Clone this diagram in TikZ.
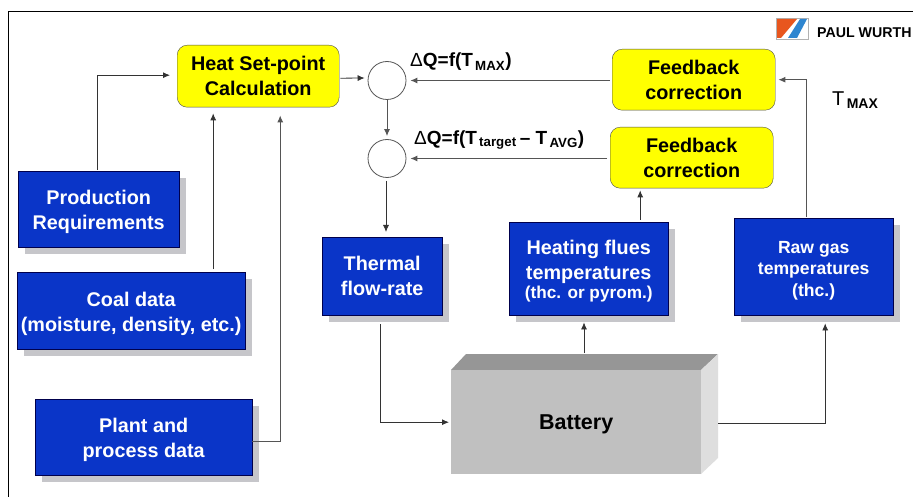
\documentclass[tikz,border=0pt]{standalone}
\usepackage{fontspec}
\setmainfont{Liberation Sans}
\usetikzlibrary{arrows.meta,positioning,shadows}
\definecolor{BlockBlue}{HTML}{0A35C8}
\definecolor{ShadowGray}{HTML}{C6C6CA}
\definecolor{CalcYellow}{HTML}{FFFF00}
\definecolor{LineGray}{HTML}{555555}
\definecolor{FrontGray}{HTML}{C0C0C0}
\definecolor{TopGray}{HTML}{969696}
\definecolor{SideGray}{HTML}{DEDEDE}
\definecolor{LogoRed}{HTML}{E8561E}
\definecolor{LogoBlue}{HTML}{2F86D0}
\newcommand{\dropline}{\rule{0pt}{20pt}}

\begin{document}
\begin{tikzpicture}[x=1pt,y=-1pt,
  blue block/.style={draw=black!70!blue, fill=BlockBlue, text=white, align=center,
              inner sep=0pt, anchor=north west, font=\fontsize{19.8}{25}\selectfont\bfseries,
              drop shadow={shadow xshift=7pt, shadow yshift=-7pt, fill=ShadowGray, opacity=1}},
  calc block/.style={draw=black!70, fill=CalcYellow, rounded corners=10pt, align=center,
              inner sep=0pt, anchor=north west, font=\fontsize{19.8}{25}\selectfont\bfseries},
  sum/.style={circle, draw=LineGray, fill=white, line width=0.8pt, minimum size=38pt, inner sep=0pt},
  lbl/.style={font=\fontsize{19}{22}\selectfont\bfseries, anchor=west, inner sep=0pt},
  conn/.style={draw=black!80, line width=0.8pt, -{Latex[length=7pt,width=6pt]}},
  conn gray/.style={conn, draw=LineGray, line width=1pt},
]
  \useasboundingbox (0,0) rectangle (913,497);
  \fill[white] (0,0) rectangle (913,497);
  \draw[line width=0.9pt] (8.5,497) -- (8.5,11.5) -- (913,11.5);

  % logo
  \draw[draw=black!30, fill=white, line width=0.8pt] (776,18) rectangle (808,39);
  \fill[LogoRed] (777,19) -- (797,19) -- (781,38) -- (777,38) -- cycle;
  \fill[LogoBlue] (800,19) -- (807,19) -- (797,38) -- (788,38) -- cycle;
  \node[anchor=west, inner sep=0pt, font=\fontsize{14.2}{18}\selectfont\bfseries] (logo) at (817,32.5) {PAUL WURTH};

  % inputs and set-point
  \node[calc block, minimum width=162pt, minimum height=62pt] (heat) at (177,45) {Heat Set-point\\Calculation};
  \node[blue block, minimum width=161pt, minimum height=76pt] (prod) at (18,171) {\dropline Production\\Requirements};
  \node[blue block, minimum width=228pt, minimum height=77pt] (coal) at (17,272) {\dropline Coal data\\(moisture, density, etc.)};
  \node[blue block, minimum width=217pt, minimum height=76pt] (plant) at (35,399) {\dropline Plant and\\process data};

  % correction path
  \node[sum] (sum1) at (387,80.5) {};
  \node[sum] (sum2) at (387,158.5) {};
  \node[calc block, minimum width=163pt, minimum height=61pt] (fb1) at (612,49) {Feedback\\correction};
  \node[calc block, minimum width=163pt, minimum height=61pt] (fb2) at (610,127) {Feedback\\correction};
  \node[lbl] (dq1) at (410,62) {{\mdseries Δ}Q=f(T\textsubscript{\,MAX})};
  \node[lbl] (dq2) at (414,140) {{\mdseries Δ}Q=f(T\textsubscript{\,target}\,– T\textsubscript{\,AVG})};
  \node[font=\fontsize{20}{24}\selectfont, anchor=west, inner sep=0pt] (tmax) at (832,100) {T\textsubscript{\,\bfseries MAX}};

  % measurements
  \node[blue block, minimum width=120pt, minimum height=78pt] (flow) at (322,237) {Thermal\\flow-rate};
  \node[blue block, minimum width=159pt, minimum height=93pt] (flues) at (509,222)
    {\dropline Heating flues\\temperatures\\[-6pt]{\fontsize{17.2}{22}\selectfont (thc. or pyrom.)}};
  \node[blue block, minimum width=159pt, minimum height=97pt, font=\fontsize{17.6}{21.5}\selectfont\bfseries] (raw) at (734,218)
    {\dropline Raw gas\\temperatures\\(thc.)};

  % battery
  \fill[TopGray] (451,370) -- (466,354) -- (718,354) -- (701,370) -- cycle;
  \fill[SideGray] (701,370) -- (718,354) -- (718,458) -- (701,474) -- cycle;
  \node[fill=FrontGray, minimum width=250pt, minimum height=104pt, inner sep=0pt, anchor=north west,
        font=\fontsize{21.5}{24}\selectfont\bfseries] (batt) at (451,370) {\dropline Battery};

  % connector ends
  \coordinate (prodout) at ([xshift=-1.5pt,yshift=1pt]prod.north);
  \coordinate (coalout) at ([xshift=82pt,yshift=3pt]coal.north);
  \coordinate (s2out) at ([xshift=-1pt,yshift=-3pt]sum2.south);
  \coordinate (flowout) at ([xshift=-2pt,yshift=-9pt]flow.south);
  \coordinate (batttop) at (584,353);
  \coordinate (battright) at (718,423);
  \coordinate (fluesout) at ([xshift=51.5pt,yshift=2pt]flues.north);
  \coordinate (rawout) at ([xshift=-7.5pt,yshift=1pt]raw.north);

  % connectors
  \draw[conn, shorten >=7pt] (prodout) |- ([yshift=1pt]heat.west);
  \draw[conn, shorten >=6pt] (coalout) -- (coalout |- heat.south);
  \draw[conn gray, shorten >=8pt] ([yshift=-4pt]plant.east) -| ([xshift=22pt]heat.south);
  \draw[conn] ([xshift=1pt,yshift=-2pt]heat.east) -- ([xshift=-3pt,yshift=2.5pt]sum1.west);
  \draw[conn gray] (sum1.south) -- ([yshift=3pt]sum2.north);
  \draw[conn gray, shorten <=2pt, shorten >=4pt] (sum1.east -| fb1.west) -- (sum1.east);
  \draw[conn gray, shorten <=3pt, shorten >=4pt] (sum2.east -| fb2.west) -- (sum2.east);
  \draw[conn, shorten >=5pt] (s2out) -- (s2out |- flow.north);
  \draw[conn, shorten >=2pt] (flowout) |- (batt.west);
  \draw[conn, shorten >=7pt] (batttop) -- (batttop |- flues.south);
  \draw[conn, shorten >=2pt] (fluesout) -- (fluesout |- fb2.south);
  \draw[conn gray, shorten >=3pt] (rawout) |- (fb1.east);
  \draw[conn, shorten >=8pt] (battright) -| ([xshift=11.5pt]raw.south);
\end{tikzpicture}
\end{document}
